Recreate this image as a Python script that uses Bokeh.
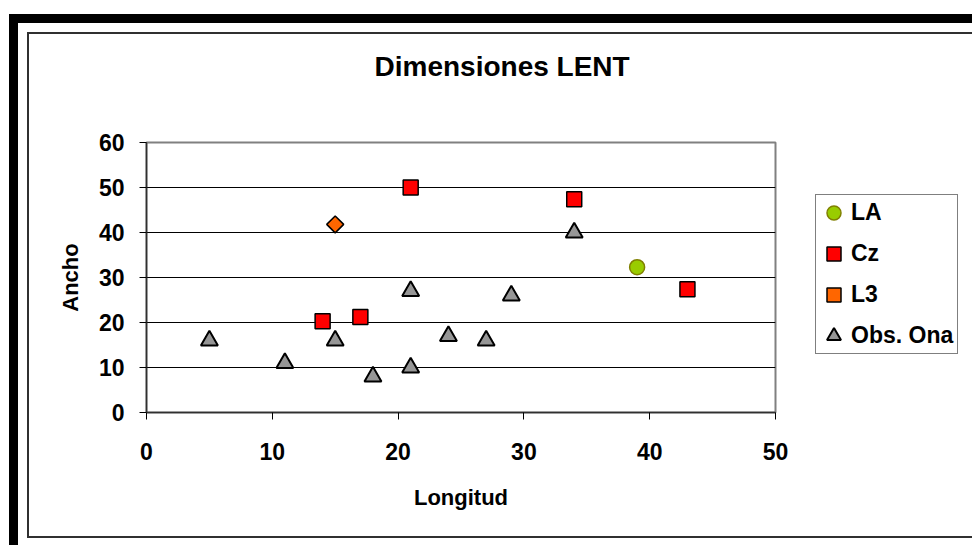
import math
from bokeh.plotting import figure
from bokeh.models import Legend, LegendItem, Range1d, FixedTicker, Column, Title
from bokeh.embed import file_html
from bokeh.resources import INLINE

# ---- data ----
la_x = [39]
la_y = [32.3]
cz_x = [14, 17, 21, 34, 43]
cz_y = [20.3, 21.2, 50, 47.4, 27.4]
l3_x = [15]
l3_y = [41.8]
ona_x = [5, 11, 15, 18, 21, 21, 24, 27, 29, 34]
ona_y = [16, 11, 16, 8, 10, 27, 17, 16, 26, 40]
x_ticks = [0, 10, 20, 30, 40, 50]
y_ticks = [0, 10, 20, 30, 40, 50, 60]

FONT = "Liberation Sans"

p = figure(width=934, height=502, output_backend="svg", toolbar_location=None,
           title=None,
           x_range=Range1d(0, 50), y_range=Range1d(0, 60),
           frame_width=625, frame_height=266,
           min_border_left=117, min_border_top=108, min_border_right=192, min_border_bottom=128)

p.background_fill_color = "white"
p.border_fill_color = "white"
p.outline_line_color = "#808080"
p.outline_line_width = 2
p.styles = {"border": "2px solid #303030", "align-self": "flex-start"}

# title: a thin spacer next to the frame, then the real title above it
spacer = Title(text=" ", text_font_size="2px", standoff=57)
p.add_layout(spacer, "above")
title = Title(text="Dimensiones LENT", text_font=FONT, text_font_style="bold",
              text_font_size="28px", text_color="black", align="left",
              offset=228, standoff=0)
p.add_layout(title, "above")

# axes
for ax in (p.xaxis[0], p.yaxis[0]):
    ax.major_label_text_font = FONT
    ax.major_label_text_font_style = "bold"
    ax.major_label_text_font_size = "23px"
    ax.major_label_text_color = "black"
    ax.axis_label_text_font = FONT
    ax.axis_label_text_font_style = "bold"
    ax.axis_label_text_font_size = "22px"
    ax.axis_label_text_color = "black"
    ax.axis_line_color = "#303030"
    ax.axis_line_width = 1.5
    ax.major_tick_line_color = "black"
    ax.major_tick_out = 7
    ax.major_tick_in = 0
    ax.minor_tick_line_color = None

p.xaxis.ticker = FixedTicker(ticks=x_ticks)
p.yaxis.ticker = FixedTicker(ticks=y_ticks)
p.xaxis.axis_label = "Longitud"
p.yaxis.axis_label = "Ancho"
p.xaxis.major_label_standoff = 23
p.yaxis.major_label_standoff = 15
p.xaxis.axis_label_standoff = 22
p.yaxis.axis_label_standoff = 13

p.xgrid.grid_line_color = None
p.ygrid.grid_line_color = "black"
p.ygrid.grid_line_width = 1

# series
r_la = p.scatter(la_x, la_y, marker="circle", size=15, fill_color="#99CC00",
                 line_color="#808000", line_width=1.5)
r_cz = p.scatter(cz_x, cz_y, marker="square", size=15, fill_color="#FF0000",
                 line_color="black", line_width=1.5)
r_l3 = p.scatter(l3_x, l3_y, marker="square", angle=math.pi / 4, size=12,
                 fill_color="#FF6600", line_color="black", line_width=1.5)
r_ona = p.scatter(ona_x, ona_y, marker="triangle", size=17, fill_color="#969696",
                  line_color="black", line_width=2)

legend = Legend(items=[
    LegendItem(label="LA", renderers=[r_la]),
    LegendItem(label="Cz", renderers=[r_cz]),
    LegendItem(label="L3", renderers=[r_l3]),
    LegendItem(label="Obs. Ona", renderers=[r_ona]),
], location=(40, 58))
legend.label_text_font = FONT
legend.label_text_font_style = "bold"
legend.label_text_font_size = "23px"
legend.label_text_color = "black"
legend.glyph_width = 35
legend.glyph_height = 35
legend.label_height = 35
legend.label_width = 106
legend.label_standoff = 0
legend.spacing = 6
legend.padding = 0
legend.margin = 0
legend.border_line_color = "black"
legend.border_line_width = 1
legend.background_fill_color = "white"
legend.background_fill_alpha = 1
p.add_layout(legend, "right")

page = Column(children=[p], styles={
    "margin-top": "14px", "margin-left": "9px",
    "border-top": "9px solid black", "border-left": "9px solid black",
    "padding-top": "9px", "padding-left": "9px",
    "padding-right": "7px", "padding-bottom": "7px",
})

open("out.html", "w").write(file_html(page, INLINE))
